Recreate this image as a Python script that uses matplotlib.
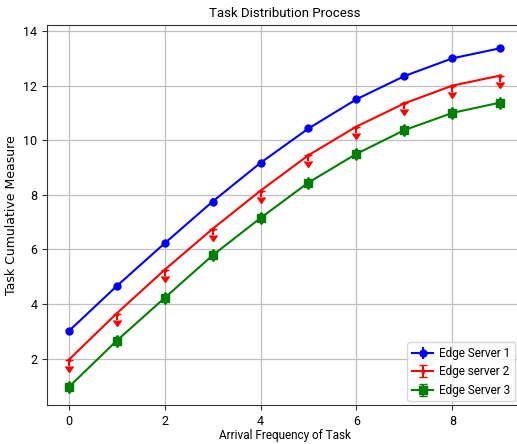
import matplotlib
matplotlib.use('Agg')
import matplotlib.pyplot as plt
import numpy as np

arrival = [0, 1, 2, 3, 4, 5, 6, 7, 8, 9]
server1 = [3.0, 4.65, 6.22, 7.75, 9.17, 10.43, 11.5, 12.35, 13.0, 13.37]
server2 = [1.95, 3.65, 5.25, 6.75, 8.15, 9.45, 10.5, 11.35, 12.0, 12.37]
server3 = [0.95, 2.65, 4.22, 5.78, 7.15, 8.45, 9.5, 10.37, 11.0, 11.38]
err1 = 0.12
err2 = 0.22
err3 = 0.25

plt.rcParams['font.family'] = ['Roboto', 'DejaVu Sans']

fig = plt.figure(figsize=(5.17, 4.44), dpi=100)
ax = fig.add_axes([47 / 517, 39 / 444, 475 / 517, 380 / 444])

ax.errorbar(arrival, server1, yerr=err1, color='blue', marker='o', markersize=5,
            label='Edge Server 1')
ax.errorbar(arrival, server2, yerr=err2, color='red', marker='o', markersize=2,
            uplims=True, capsize=3, label='Edge server 2')
ax.errorbar(arrival, server3, yerr=err3, color='green', marker='s', markersize=6,
            lolims=True, uplims=True, capsize=3, label='Edge Server 3')

ax.set_xlim(-0.45, 9.45)
ax.set_ylim(0.3, 14.22)
ax.set_xticks([0, 2, 4, 6, 8])
ax.set_yticks([2, 4, 6, 8, 10, 12, 14])
ax.tick_params(labelsize=9, colors='#333333', labelcolor='black')
ax.grid(True, color='#c0c0c0', linewidth=0.9)
for s in ax.spines.values():
    s.set_color('#333333')

ax.set_title('Task Distribution Process', fontsize=9.5)
ax.set_xlabel('Arrival Frequency of Task', fontsize=8.5, labelpad=1)
ax.set_ylabel('Task Cumulative Measure', fontsize=9, family='DejaVu Sans')
ax.yaxis.set_label_coords(-0.062, 0.5)
ax.legend(loc='lower right', fontsize=8.5, bbox_to_anchor=(0.993, 0.0),
          handlelength=1.8, handletextpad=0.5, labelspacing=0.45,
          borderaxespad=0.3)

fig.savefig('out.png', dpi=100)
